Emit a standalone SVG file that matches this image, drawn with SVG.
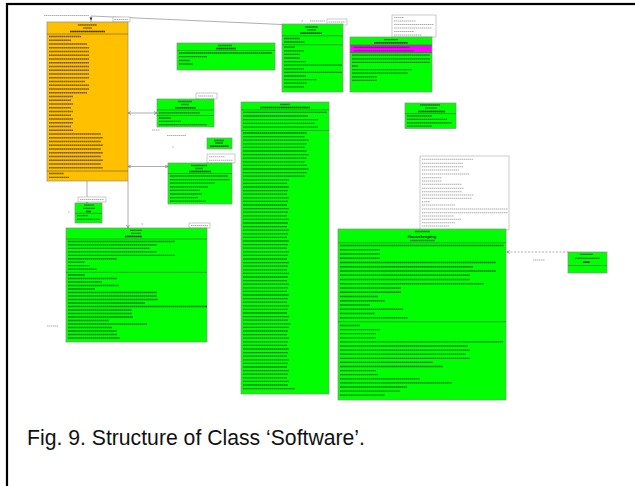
<svg xmlns="http://www.w3.org/2000/svg" width="635" height="486" viewBox="0 0 635 486">
  <style>
    .box{stroke:#8c8c8c;stroke-width:.7}
    .g{fill:#00ff00}
    .o{fill:#ffc000}
    .note{fill:#fff;stroke:#a8a8a8;stroke-width:.6}
    .sep{fill:none;stroke:#4a4a4a;stroke-width:.5}
    .tx{fill:none;stroke:#111;stroke-opacity:.58;stroke-width:1.3;stroke-dasharray:1.7 .35}
    .tb{fill:none;stroke:#000;stroke-opacity:.78;stroke-width:1.5;stroke-dasharray:1.8 .3}
    .lt{fill:none;stroke:#777;stroke-opacity:.6;stroke-width:1.05;stroke-dasharray:1.5 .5}
    .ln{fill:none;stroke:#9a9a9a;stroke-width:.8}
    .dash{stroke-dasharray:2 1.5}
  </style>
  <defs>
    <marker id="arr" viewBox="0 0 6 6" refX="6" refY="3" markerWidth="4" markerHeight="4" orient="auto-start-reverse">
      <path d="M0 0L6 3L0 6" fill="none" stroke="#555" stroke-width="1"/>
    </marker>
  </defs>

  <!-- page frame -->
  <rect x="7" y="4" width="700" height="600" fill="#fff" stroke="#000" stroke-width="2.2"/>

  <!-- connectors -->
  <g id="connectors">
    <path class="ln" d="M91 22V16L282 24.5"/>
    <path d="M89.5 17.5h3l-1.5 3z" fill="#333"/>
    <path class="lt" d="M44 15.4h45"/>
    <rect class="note" x="113" y="17" width="17" height="5"/>
    <path class="lt" d="M114.5 19.5h14"/>
    <path class="lt" d="M301.5 21h2M310 21h15"/>
    <rect class="note" x="327" y="19" width="20" height="6"/>
    <path class="lt" d="M328.5 22h17"/>

    <path class="ln" d="M128 113H157" marker-start="url(#arr)" marker-end="url(#arr)"/>
    <path class="lt" d="M152 130h8M167 135.5h19"/>
    <circle cx="173" cy="147" r=".6" fill="#777"/>

    <path class="ln" d="M128 166.5H168" marker-start="url(#arr)" marker-end="url(#arr)"/>

    <path class="ln" d="M87 181V203" marker-end="url(#arr)"/>
    <path class="lt" d="M68 212h2"/>
    <path class="ln" d="M128 181V228" marker-end="url(#arr)"/>
    <path class="lt" d="M141.5 224h2"/>
    <path class="lt" d="M47 326h11"/>

    <path class="ln dash" d="M507 252H568" marker-start="url(#arr)"/>
    <path class="lt" d="M533 260h12"/>
  </g>

  <!-- orange data class -->
  <g id="hk-data">
    <rect class="box o" x="47" y="22" width="81" height="159"/>
    <path class="tx" d="M78 25h19M83 28h9"/>
    <path class="tb" d="M70 31.5h35"/>
    <path class="sep" d="M47 34h81M47 171h81"/>
    <path class="tx" d="M49 36.5h32M49 40.25h22M49 44h38M49 47.75h40M49 51.5h40M49 55.25h40M49 59h40M49 62.75h40M49 66.5h40M49 70.25h40M49 74h40M49 77.75h40M49 81.5h36M49 85.25h40M49 89h40M49 92.75h38M49 96.5h24M49 100.25h22M49 104h24M49 107.75h22M49 111.5h24M49 115.25h22M49 119h24M49 122.75h24M49 126.5h22M49 130.25h24M49 134h52M49 137.75h54M49 141.5h52M49 145.25h54M49 149h52M49 152.75h54M49 156.5h52M49 160.25h54M49 164h52M49 167.75h54M49 173.5h15M49 177.3h20"/>
  </g>

  <g id="box-top-mid">
    <rect class="box g" x="177" y="43" width="98" height="27"/>
    <path class="tx" d="M218 45.5h14"/>
    <path class="tb" d="M216 48.5h20"/>
    <path class="sep" d="M177 50.5h98"/>
    <path class="tx" d="M179 53h93M179 56.7h28M179 60.5h11M179 64h14"/>
  </g>

  <g id="box-c">
    <rect class="note" x="196" y="93" width="21" height="6"/>
    <path class="lt" d="M198 96h15"/>
    <rect class="box g" x="157" y="99" width="57" height="28"/>
    <path class="tx" d="M178 101.5h14M181 104.5h8"/>
    <path class="tb" d="M175 107.8h21"/>
    <path class="sep" d="M157 110h57M157 115.5h57"/>
    <path class="tx" d="M159 112.8h41M159 118h12M159 121.3h22M159 124.6h48"/>
  </g>

  <g id="box-d">
    <rect class="box g" x="207" y="138" width="25" height="11"/>
    <path class="tx" d="M214 140.5h10M215 143h8"/>
    <path class="tb" d="M210 146.2h19"/>
  </g>

  <g id="box-e">
    <rect class="note" x="207" y="154" width="28" height="9"/>
    <path class="lt" d="M209 156.7h16M209 160.3h24"/>
    <rect class="box g" x="168" y="163" width="64" height="41"/>
    <path class="tx" d="M191 165.5h16M195 168.5h8"/>
    <path class="tb" d="M189 171.5h22"/>
    <path class="sep" d="M168 173.5h64"/>
    <path class="tx" d="M170 176h58M170 179.6h60M170 183.2h45M170 186.8h38M170 190.4h30M170 194h32M170 197.6h28M170 201.2h36"/>
  </g>

  <g id="box-mask">
    <rect class="box g" x="241" y="102" width="88" height="292"/>
    <path class="tx" d="M280 104.5h10"/>
    <path class="tb" d="M260 107.6h50"/>
    <path class="sep" d="M241 109.8h88M241 130.5h88"/>
    <path class="tx" d="M243 112.3h84M243 116h65M243 119.7h75M243 123.4h72M243 127.1h75M243 133h64M243 136.6h62M243 140.2h66M243 143.8h64M243 147.4h62M243 151h64M243 154.6h66M243 158.2h64M243 161.8h62M243 165.4h64M243 169h66M243 172.6h64M243 176.2h62M243 179.8h46M243 183.4h44M243 187h46M243 190.6h45M243 194.2h44M243 197.8h46M243 201.4h45M243 205h44M243 208.6h46M243 212.2h45M243 215.8h44M243 219.4h46M243 223h45M243 226.6h44M243 230.2h46M243 233.8h45M243 237.4h44M243 241h46M243 244.6h45M243 248.2h44M243 251.8h46M243 255.4h45M243 259h44M243 262.6h46M243 266.2h45M243 269.8h44M243 273.4h46M243 277h45M243 280.6h44M243 284.2h46M243 287.8h45M243 291.4h44M243 295h46M243 298.6h45M243 302.2h44M243 305.8h46M243 309.4h45M243 313h44M243 316.6h46M243 320.2h45M243 323.8h48M243 327.4h46M243 331h45M243 334.6h44M243 338.2h46M243 341.8h45M243 345.4h44M243 349h46M243 352.6h45M243 356.2h44M243 359.8h46M243 363.4h45M243 367h44M243 370.6h46M243 374.2h45M243 377.8h44M243 381.4h46M243 385h45M243 388.6h52"/>
  </g>

  <g id="box-g">
    <rect class="box g" x="282" y="24" width="61" height="68"/>
    <path class="tx" d="M305 27h13M307 30h9"/>
    <path class="tb" d="M300 33.3h22"/>
    <path class="sep" d="M282 35.8h61M282 44.8h61"/>
    <path class="tx" d="M284 38.5h16M284 42h21M284 47.2h11M284 50.8h20M284 54.4h16M284 58h16M284 61.6h22M284 65.2h58M284 68.8h20M284 72.4h58M284 76h22M284 79.6h33M284 83.2h23M284 86.8h20"/>
  </g>

  <g id="box-handler">
    <rect class="note" x="392" y="15" width="44" height="22"/>
    <path class="lt" d="M394 17.5h10M394 21h22M394 24.5h40M394 28h38M394 31.5h20M394 35h28"/>
    <rect class="box g" x="350" y="37" width="82" height="55"/>
    <rect x="350.4" y="45.2" width="81.2" height="7.3" fill="#ff00ff"/>
    <path class="tx" d="M384 39.6h14"/>
    <path class="tb" d="M374 42.8h34"/>
    <path class="sep" d="M350 45h82M350 52.6h82"/>
    <path class="tx" d="M354 47.3h56M354 50.6h60M352 55.2h78M352 58.8h78M352 62.4h78M352 66h6M352 69.6h60M352 73.2h56M352 76.8h25M352 80.4h25"/>
  </g>

  <g id="box-commands">
    <rect class="box g" x="405" y="103" width="51" height="25.5"/>
    <path class="tx" d="M420 105h20M425 108.2h12"/>
    <path class="tb" d="M418 111.6h27"/>
    <path class="sep" d="M405 113.6h51"/>
    <path class="tx" d="M407 116h25M407 119.3h40M407 122.8h45M407 126.2h25"/>
  </g>

  <g id="note-const">
    <rect class="note" x="420" y="156" width="89" height="74"/>
    <path class="lt" d="M422 159.3h51M422 163.3h41M422 166.7h41M422 170h37M422 174h47M422 177.7h20M422 181h20M422 184.3h40M422 188.3h42M422 191.7h40M422 195h52M422 198.3h50M422 201.7h8M422 205h33M422 209h86M422 212.7h86M422 216h32M422 219.3h39M422 222.7h33M422 226h27"/>
  </g>

  <g id="housekeeping">
    <rect class="box g" x="338" y="229" width="168" height="171"/>
    <path class="tx" d="M415 231.5h15"/>
    <text x="422" y="237.6" text-anchor="middle" font-family="Liberation Sans, Arial, sans-serif" font-size="4.2" font-weight="bold" fill="#111">Housekeeping</text>
    <path class="tx" d="M410 240.5h25"/>
    <path class="sep" d="M338 242.8h168M338 321.8h168"/>
    <path class="tx" d="M340 245.5h164M340 249.75h40M340 254h40M340 258.25h40M340 262.5h156M340 266.75h133M340 271h156M340 275.25h130M340 279.5h130M340 283.75h144M340 288h61M340 292.25h61M340 296.5h38M340 300.75h45M340 305h30M340 309.25h63M340 313.5h35M340 317.75h68M340 325.5h20M340 329.6h40M340 333.7h36M340 337.8h36M340 341.9h163M340 346h128M340 350.1h130M340 354.2h126M340 358.3h130M340 362.4h93M340 366.5h103M340 370.6h36M340 374.7h38M340 378.8h80M340 382.9h112M340 387h67M340 391.1h60M340 395.2h45"/>
  </g>

  <g id="box-ext">
    <rect class="box g" x="568" y="252" width="39" height="21"/>
    <path class="tx" d="M580 254.3h13M575 258.3h25"/>
    <path class="tb" d="M583 262.3h7"/>
    <path class="sep" d="M568 265.5h39"/>
  </g>

  <g id="box-small">
    <rect class="note" x="78" y="197" width="28" height="5"/>
    <path class="lt" d="M80 199.5h24"/>
    <rect class="box g" x="75" y="203" width="27" height="20"/>
    <path class="tx" d="M84 205.2h10M83 208.3h12"/>
    <path class="tb" d="M86 211.5h5"/>
    <path class="sep" d="M75 213.3h27"/>
    <path class="tx" d="M77 215.6h11M77 219.3h23"/>
  </g>

  <g id="software">
    <rect class="note" x="189" y="223" width="21" height="5"/>
    <path class="lt" d="M191 225.5h17"/>
    <rect class="box g" x="66" y="228" width="141" height="114"/>
    <path class="tx" d="M130 230.3h12M131 233.4h10"/>
    <path class="tb" d="M125 236.6h17"/>
    <path class="sep" d="M66 239h141M66 272.3h141"/>
    <path class="tx" d="M68 241.5h107M68 244.95h89M68 248.4h82M68 251.85h89M68 255.3h107M68 258.75h49M68 262.2h17M68 265.65h22M68 269.1h29M68 275h17M68 278.5h49M68 282h34M68 285.5h51M68 289h27M68 292.5h89M68 296h89M68 299.5h90M68 303h77M68 306.5h139M68 310h64M68 313.5h64M68 317h65M68 320.5h41M68 324h79M68 327.5h44M68 331h49M68 334.5h49M68 338h52"/>
  </g>

  <text x="27" y="445" font-family="Liberation Sans, Arial, sans-serif" font-size="21.2" fill="#111">Fig. 9. Structure of Class ‘Software’.</text>
</svg>
